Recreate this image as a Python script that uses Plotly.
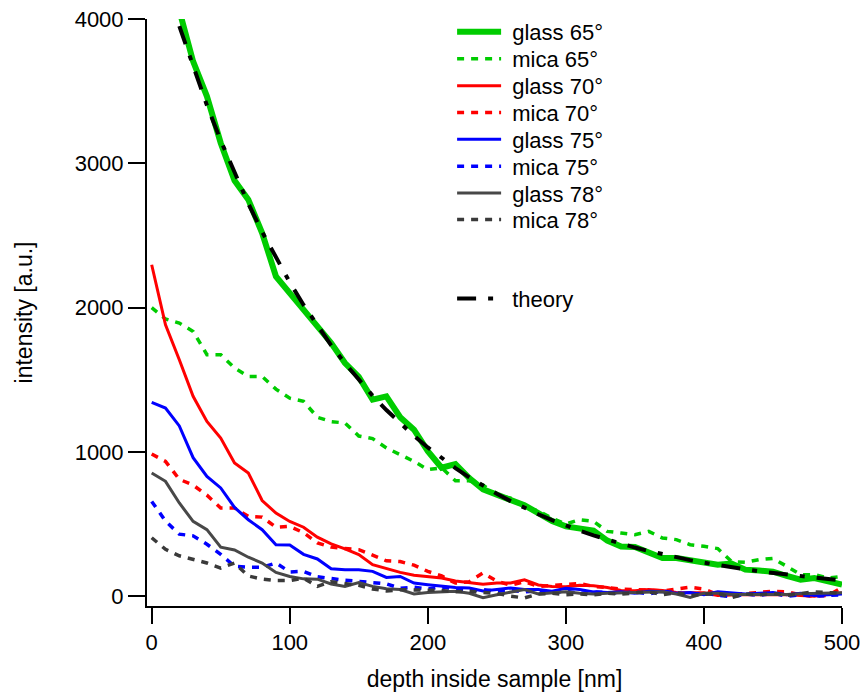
import plotly.graph_objects as go

depth = list(range(0, 501, 10))

glass_65 = [5000, 4500, 4060, 3706, 3464, 3141, 2880, 2748, 2517, 2216, 2101, 1985, 1870, 1755, 1616,
            1520, 1362, 1385, 1240, 1154, 1005, 890, 915, 819, 740, 700, 670, 630, 576, 520,
            484, 470, 455, 385, 345, 341, 300, 265, 264, 250, 238, 218, 226, 184, 178, 170,
            140, 114, 126, 105, 80]
mica_65 = [2000, 1921, 1893, 1835, 1674, 1674, 1581, 1523, 1523, 1435, 1372, 1350, 1240, 1210, 1200,
           1110, 1092, 1027, 981, 934, 877, 890, 800, 800, 770, 700, 680, 620, 590, 540,
           500, 530, 519, 449, 438, 426, 449, 403, 392, 357, 346, 330, 240, 235, 253, 262,
           207, 149, 149, 126, 137]
glass_70 = [2297, 1881, 1639, 1385, 1211, 1096, 923, 854, 663, 576, 518, 478, 409, 362, 328,
            288, 218, 192, 165, 145, 135, 126, 105, 91, 82, 91, 91, 114, 78, 68,
            65, 75, 72, 60, 40, 38, 46, 40, 25, 23, 23, 5, 10, 12, 10, 12,
            11, 5, 0, 15, 23]
mica_70 = [985, 934, 810, 770, 700, 611, 611, 553, 548, 478, 484, 440, 370, 340, 330,
           322, 285, 245, 240, 215, 172, 140, 91, 100, 161, 105, 75, 100, 68, 72,
           82, 88, 68, 60, 48, 46, 38, 36, 50, 62, 50, 11, 11, 18, 25, 34,
           30, 10, 0, 5, 60]
glass_75 = [1343, 1304, 1180, 960, 830, 750, 615, 530, 461, 357, 355, 290, 258, 190, 184,
            184, 172, 130, 137, 91, 80, 68, 60, 57, 36, 46, 57, 46, 46, 34,
            55, 46, 30, 25, 30, 20, 35, 30, 20, 25, 10, 30, 20, 15, 20, 25,
            10, 20, 5, 10, 15]
mica_75 = [657, 520, 430, 418, 360, 290, 207, 200, 200, 230, 168, 172, 135, 120, 110,
           103, 91, 85, 55, 62, 50, 65, 50, 40, 45, 35, 40, 30, 38, 25,
           35, 20, 30, 25, 20, 30, 15, 35, 25, 10, 20, 10, -5, 15, 5, 20,
           0, 10, 0, 5, 10]
glass_78 = [854, 796, 646, 519, 461, 340, 320, 270, 230, 165, 137, 120, 118, 85, 68,
            95, 68, 52, 46, 15, 25, 28, 34, 20, -10, 10, 30, 46, 15, 23,
            30, 20, 15, 20, 23, 25, 30, 30, 15, -8, 20, 20, 12, 11, 11, 11,
            12, 17, 18, 20, 23]
mica_78 = [405, 325, 280, 253, 230, 195, 230, 140, 118, 108, 108, 125, 68, 100, 90,
           75, 50, 36, 45, 45, 45, 40, 30, 35, 25, 20, 0, -12, 15, 20,
           10, 15, 10, 20, 15, 20, 30, 10, 25, 5, 10, 20, -10, 15, 10, 20,
           5, 15, 30, 25, 20]

theory_depth = list(range(20, 501, 10))
theory = [3950, 3666, 3402, 3158, 2931, 2720, 2525, 2343, 2175, 2018, 1873, 1739, 1614, 1498,
          1390, 1290, 1197, 1111, 1031, 957, 888, 824, 765, 710, 659, 612, 568, 527, 489,
          454, 421, 391, 363, 337, 313, 290, 269, 250, 232, 215, 200, 186, 172, 160, 148,
          138, 128, 119, 110]

series = [
    ("glass 65°", glass_65, "rgb(0,204,0)", 6, "solid"),
    ("mica 65°", mica_65, "rgb(0,204,0)", 3.5, "7px,7px"),
    ("glass 70°", glass_70, "rgb(255,0,0)", 3, "solid"),
    ("mica 70°", mica_70, "rgb(255,0,0)", 3.5, "7px,7px"),
    ("glass 75°", glass_75, "rgb(0,0,255)", 3, "solid"),
    ("mica 75°", mica_75, "rgb(0,0,255)", 3.5, "7px,7px"),
    ("glass 78°", glass_78, "rgb(72,72,72)", 3, "solid"),
    ("mica 78°", mica_78, "rgb(58,58,58)", 3.5, "7px,7px"),
]
theory_style = ("theory", "black", 4, "19px,12px,5px,12px")

# legend row centres (paper y), one single-entry legend per row
legend_rows = [0.9780, 0.9318, 0.8860, 0.8403, 0.7946, 0.7489, 0.7031, 0.6579, 0.5235]
LEG_X = 0.439

FONT = "Liberation Sans, Arial, sans-serif"
NBSP = "\u00a0"

fig = go.Figure()
for i, (name, vals, color, width, dash) in enumerate(series):
    lg = "legend" if i == 0 else f"legend{i + 1}"
    fig.add_trace(go.Scatter(x=depth, y=vals, mode="lines", name=NBSP + name,
                             line=dict(color=color, width=width, dash=dash),
                             legend=lg))
fig.add_trace(go.Scatter(x=theory_depth, y=theory, mode="lines", name=NBSP + theory_style[0],
                         line=dict(color=theory_style[1], width=theory_style[2], dash=theory_style[3]),
                         legend="legend9"))

axis_common = dict(showline=True, linecolor="black", linewidth=2, ticks="outside",
                   tickcolor="black", tickwidth=2, showgrid=False, zeroline=False,
                   automargin=False,
                   tickfont=dict(family=FONT, size=22, color="black"))

legend_layout = {}
for i, yy in enumerate(legend_rows):
    key = "legend" if i == 0 else f"legend{i + 1}"
    legend_layout[key] = dict(x=LEG_X, y=yy, xanchor="left", yanchor="middle",
                              bgcolor="rgba(0,0,0,0)", borderwidth=0,
                              font=dict(family=FONT, size=22, color="black"), itemwidth=44)

fig.update_layout(
    template="none",
    width=861, height=692,
    margin=dict(l=147, r=19, t=19, b=86, autoexpand=False),
    paper_bgcolor="white", plot_bgcolor="white",
    font=dict(family=FONT, color="black"),
    xaxis=dict(range=[-3.4, 500], tickvals=[0, 100, 200, 300, 400, 500], ticklen=16,
               title=dict(text="depth inside sample [nm]", font=dict(family=FONT, size=23, color="black"),
                          standoff=16),
               **axis_common),
    yaxis=dict(range=[-68, 4000], tickvals=[0, 1000, 2000, 3000, 4000], ticklen=17,
               title=dict(text="intensity [a.u.]", font=dict(family=FONT, size=23, color="black"),
                          standoff=36),
               **axis_common),
    showlegend=True,
    **legend_layout,
)

fig.write_html("out.html")
